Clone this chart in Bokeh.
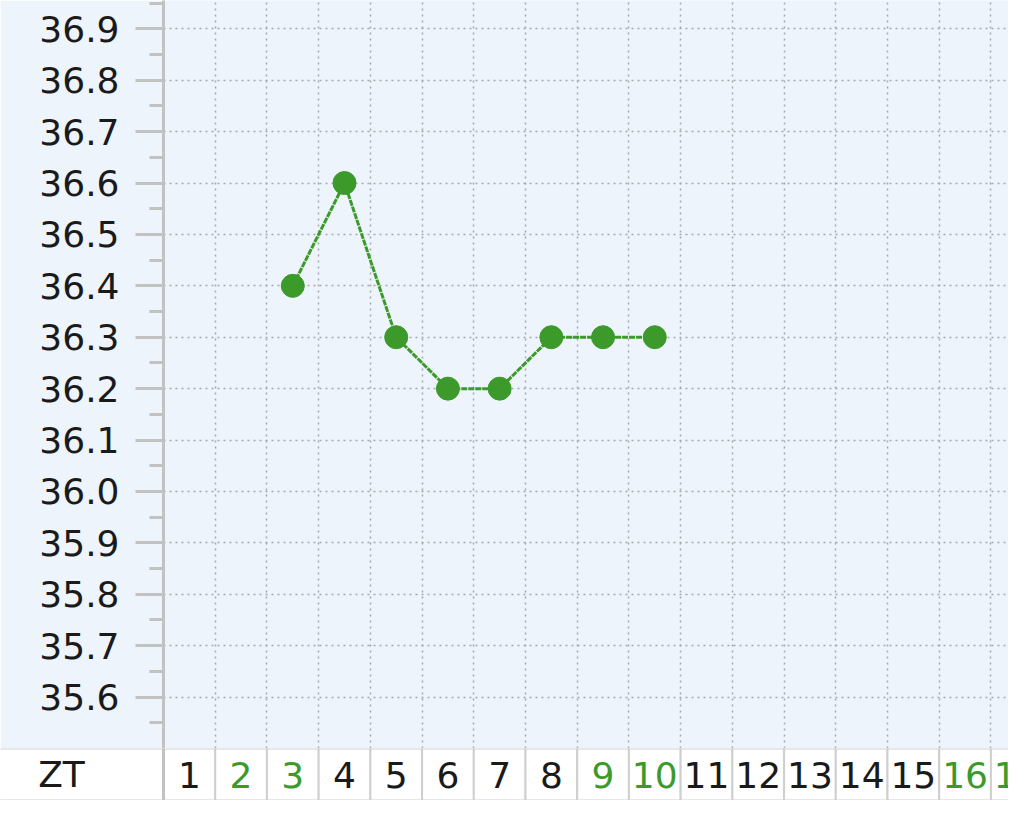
from bokeh.plotting import figure
from bokeh.models import FixedTicker, Range1d, NumeralTickFormatter
from bokeh.layouts import column
from bokeh.embed import file_html
from bokeh.resources import INLINE
from bokeh.core.properties import value

# ---- data ----
days = [3, 4, 5, 6, 7, 8, 9, 10]
temps = [36.4, 36.6, 36.3, 36.2, 36.2, 36.3, 36.3, 36.3]
y_ticks = [35.6, 35.7, 35.8, 35.9, 36.0, 36.1, 36.2, 36.3, 36.4, 36.5, 36.6, 36.7, 36.8, 36.9]
y_minor = [35.55, 35.65, 35.75, 35.85, 35.95, 36.05, 36.15, 36.25, 36.35, 36.45,
           36.55, 36.65, 36.75, 36.85, 36.95]
day_numbers = list(range(1, 18))
day_labels = [str(d) for d in day_numbers]
green_days = [2, 3, 9, 10, 16, 17]
row_label = "ZT"

# ---- style ----
BG = "#EEF4FC"
GREEN = "#3C9A2A"
AXIS_GREY = "#C2C2C2"
GRID_GREY = "#A8A8A8"
TEXT = "#1A1A1A"
FONT = "DejaVu Sans"
W = 1008
H_TOP = 748
H_ROW = 52
LEFT = 163
X_START, X_END = 0.5, 16.84
Y_START, Y_END = 35.5, 36.955
col_px = (W - LEFT) / (X_END - X_START)
X_LEFT = X_START - LEFT / col_px

p = figure(width=W, height=H_TOP, x_range=Range1d(X_START, X_END),
           y_range=Range1d(Y_START, Y_END), x_axis_location=None,
           output_backend="svg", toolbar_location=None, frame_align=False,
           min_border_left=LEFT, min_border_right=0, min_border_top=0, min_border_bottom=0,
           background_fill_color=BG, border_fill_color=BG, outline_line_color=None)

ax = p.yaxis[0]
ax.ticker = FixedTicker(ticks=y_ticks, minor_ticks=y_minor)
ax.formatter = NumeralTickFormatter(format="0.0")
ax.major_label_text_font = FONT
ax.major_label_text_font_size = "36px"
ax.major_label_text_color = TEXT
ax.major_label_standoff = 16
ax.major_tick_in = 0
ax.major_tick_out = 28
ax.minor_tick_in = 0
ax.minor_tick_out = 14
ax.axis_line_color = AXIS_GREY
ax.axis_line_width = 3
ax.major_tick_line_color = AXIS_GREY
ax.major_tick_line_width = 3
ax.minor_tick_line_color = AXIS_GREY
ax.minor_tick_line_width = 3

p.ygrid.grid_line_color = GRID_GREY
p.ygrid.grid_line_dash = "2 4"
p.ygrid.grid_line_width = 1.5
p.xgrid.ticker = FixedTicker(ticks=[d + 0.5 for d in day_numbers])
p.xgrid.grid_line_color = GRID_GREY
p.xgrid.grid_line_dash = "2 4"
p.xgrid.grid_line_width = 1.5

p.line(days, temps, line_color=GREEN, line_width=3, line_dash="6 1")
p.scatter(days, temps, size=23, fill_color=GREEN, line_color=GREEN)

# ---- bottom label row ----
q = figure(width=W, height=H_ROW, x_range=Range1d(X_LEFT, X_END), y_range=Range1d(0, 1),
           x_axis_location=None, y_axis_location=None, frame_align=False,
           output_backend="svg", toolbar_location=None, min_border=0,
           background_fill_color="white", border_fill_color="white", outline_line_color=None)
q.grid.visible = False

q.quad(left=[d - 0.5 for d in day_numbers], right=[d + 0.5 for d in day_numbers],
       bottom=0, top=1, fill_color="white", line_color="#CFCFCF", line_width=2)
q.quad(left=[X_LEFT - 1], right=[X_START], bottom=0, top=1,
       fill_color="white", line_color="#CFCFCF", line_width=2)
q.segment(x0=[X_START], y0=[0], x1=[X_START], y1=[1], line_color=AXIS_GREY, line_width=3)

colors = [GREEN if d in green_days else TEXT for d in day_numbers]
q.text(x=day_numbers, y=[0.5] * len(day_numbers), text=day_labels, text_color=colors,
       text_align="center", text_baseline="middle",
       text_font=value(FONT), text_font_size="36px")
q.text(x=[X_LEFT + 61 / col_px], y=[0.5], text=[row_label], text_color=TEXT,
       text_align="center", text_baseline="middle",
       text_font=value(FONT), text_font_size="36px")

layout = column(p, q, spacing=0)
open("out.html", "w").write(file_html(layout, INLINE))
